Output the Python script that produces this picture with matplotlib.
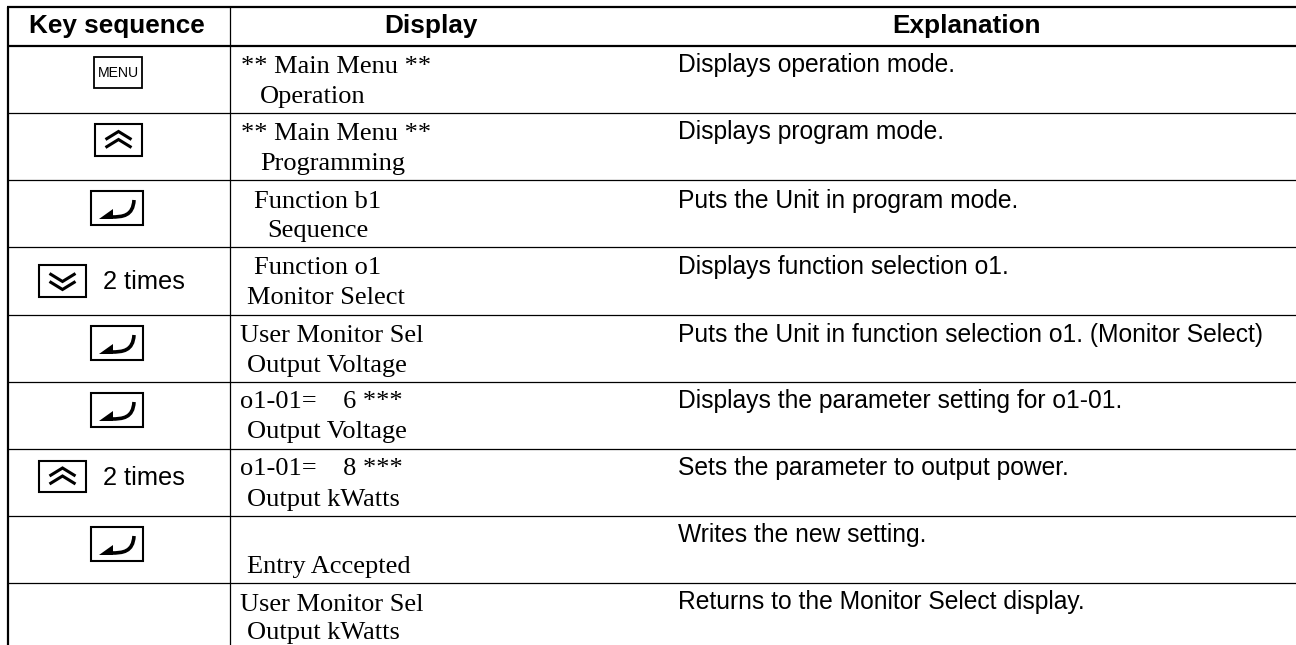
"""Key sequence table: setting the monitor item from the digital operator."""

import matplotlib
matplotlib.use("Agg")
import matplotlib.pyplot as plt
from matplotlib.patches import PathPatch, Polygon, Rectangle
from matplotlib.path import Path

# ── Table content ────────────────────────────────────────────────────────────
HEADERS = ["Key sequence", "Display", "Explanation"]

KEYS = ["menu", "up", "enter", "down", "enter", "enter", "up", "enter", None]
KEY_NOTES = ["", "", "", "2 times", "", "", "2 times", "", ""]

DISPLAY_TOP = [
    "** Main Menu **",
    "** Main Menu **",
    "Function b1",
    "Function o1",
    "User Monitor Sel",
    "o1-01=    6 ***",
    "o1-01=    8 ***",
    "",
    "User Monitor Sel",
]
DISPLAY_BOTTOM = [
    "Operation",
    "Programming",
    "Sequence",
    "Monitor Select",
    "Output Voltage",
    "Output Voltage",
    "Output kWatts",
    "Entry Accepted",
    "Output kWatts",
]
EXPLANATIONS = [
    "Displays operation mode.",
    "Displays program mode.",
    "Puts the Unit in program mode.",
    "Displays function selection o1.",
    "Puts the Unit in function selection o1. (Monitor Select)",
    "Displays the parameter setting for o1-01.",
    "Sets the parameter to output power.",
    "Writes the new setting.",
    "Returns to the Monitor Select display.",
]

# ── Layout (pixels, origin top left) ─────────────────────────────────────────
WIDTH, HEIGHT = 1296, 645
LEFT, COL_X = 7.5, 229.5
THICK_RULES = [6.5, 45.5]
THIN_RULES = [112.5, 179.5, 246.5, 314.5, 381.5, 448.5, 515.5, 582.5]

TOP_X = [241, 241, 254, 254, 240, 240, 240, 240, 240]
BOTTOM_X = [260, 260, 267, 247, 247, 247, 247, 247, 247]
TOP_Y = [73, 140, 208, 274, 342, 408, 475, 542, 611]
BOTTOM_Y = [103, 170, 237, 304, 372, 438, 506, 573, 639]
EXPLAIN_Y = [72, 139, 208, 274, 342, 408, 475, 542, 609]
KEY_BOXES = [
    (94, 57, 48, 31),
    (95, 124, 47, 32),
    (91, 191, 52, 34),
    (39, 265, 47, 32),
    (91, 326, 52, 34),
    (91, 393, 52, 34),
    (39, 461, 47, 31),
    (91, 527, 52, 34),
    None,
]

SANS = "Liberation Sans"
SERIF = "Liberation Serif"


def draw_chevrons(ax, box, up=True):
    """Double chevron key, pointing up or down."""
    x, y, w, h = box
    cx, cy = x + w / 2, y + h / 2
    sign = -1 if up else 1
    for off in (-4.5, 3.5):
        yy = cy + off * (1 if up else -1)
        ax.plot([cx - 13, cx, cx + 13], [yy + 4 * -sign, yy + 4 * sign, yy + 4 * -sign],
                color="black", lw=2.2, solid_joinstyle="miter", solid_capstyle="butt")


def draw_enter(ax, box):
    """Enter key: hooked arrow inside the box."""
    x, y, w, h = box
    verts = [(x + 43, y + 9), (x + 42, y + 25), (x + 32, y + 26), (x + 20, y + 26)]
    codes = [Path.MOVETO, Path.CURVE4, Path.CURVE4, Path.CURVE4]
    ax.add_patch(PathPatch(Path(verts, codes), fc="none", ec="black", lw=2.6))
    ax.add_patch(Polygon([(x + 8, y + 28), (x + 22, y + 18), (x + 22, y + 28)], fc="black", ec="none"))


def draw_key(ax, kind, box):
    x, y, w, h = box
    lw = 1.3 if kind == "menu" else 1.5
    ax.add_patch(Rectangle((x, y), w, h, fc="white", ec="black", lw=lw))
    if kind == "menu":
        ax.text(x + w / 2, y + h / 2 + 0.5, "MENU", family=SANS, fontsize=10.1,
                ha="center", va="center", color="black")
    elif kind == "enter":
        draw_enter(ax, box)
    else:
        draw_chevrons(ax, box, up=kind == "up")


fig = plt.figure(figsize=(WIDTH / 100, HEIGHT / 100), dpi=100)
ax = fig.add_axes([0, 0, 1, 1])
ax.set_xlim(0, WIDTH)
ax.set_ylim(HEIGHT, 0)
ax.axis("off")

# rules
ax.hlines(THICK_RULES, LEFT - 1, WIDTH, color="black", lw=1.6)
ax.hlines(THIN_RULES, LEFT, WIDTH, color="black", lw=0.9)
ax.vlines(LEFT, THICK_RULES[0], HEIGHT, color="black", lw=1.6)
ax.vlines(COL_X, THICK_RULES[0], HEIGHT, color="black", lw=0.9)

# header
for cx, label in zip([117, 431, 966], HEADERS):
    ax.text(cx, 33, label, family=SANS, weight="bold", fontsize=18.8, ha="center", va="baseline")

# rows
for i, kind in enumerate(KEYS):
    if kind is not None:
        draw_key(ax, kind, KEY_BOXES[i])
    if KEY_NOTES[i]:
        ax.text(103, KEY_BOXES[i][1] + 24, KEY_NOTES[i], family=SANS, fontsize=18.3, va="baseline")
    ax.text(TOP_X[i], TOP_Y[i], DISPLAY_TOP[i], family=SERIF, fontsize=19, va="baseline")
    ax.text(BOTTOM_X[i], BOTTOM_Y[i], DISPLAY_BOTTOM[i], family=SERIF, fontsize=19, va="baseline")
    ax.text(678, EXPLAIN_Y[i], EXPLANATIONS[i], family=SANS, fontsize=17.7, va="baseline")

fig.savefig("out.png", dpi=100, facecolor="white")
plt.close(fig)
